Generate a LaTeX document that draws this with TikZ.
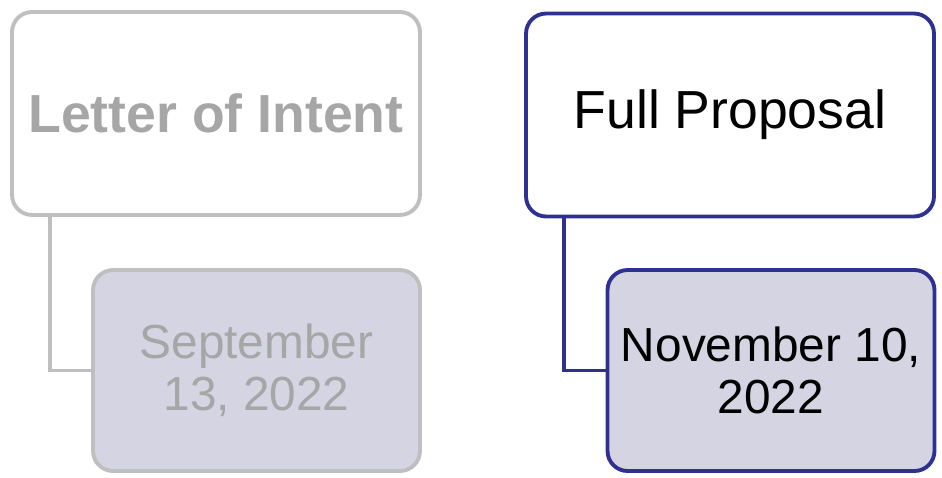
\documentclass[tikz,border=0pt]{standalone}
\usepackage{fontspec}
\setmainfont{Liberation Sans}
\definecolor{lightline}{HTML}{BFBFBF}
\definecolor{lighttext}{HTML}{A6A6A6}
\definecolor{datefill}{HTML}{D4D4E2}
\definecolor{darkline}{HTML}{2E3191}
\tikzset{
    stagebox/.style={draw, rounded corners=0.4cm, line width=2.2pt,
        minimum width=8.16cm, minimum height=4.06cm, fill=white},
    datebox/.style={draw, rounded corners=0.4cm, line width=2.2pt,
        minimum width=6.54cm, minimum height=4.02cm, fill=datefill, align=center},
}
\begin{document}
\begin{tikzpicture}[x=0.02cm, y=-0.02cm]
    \useasboundingbox (0,0) rectangle (942,477);
    % Letter of intent (faded)
    \node[stagebox, draw=lightline, text=lighttext, font=\fontsize{30.5}{36}\selectfont\bfseries]
        (loi) at (216,113.5) {Letter of Intent};
    \node[datebox, draw=lightline, text=lighttext, font=\fontsize{27.2}{29.5}\selectfont]
        (loidate) at (256.5,370.5) {September\\13, 2022};
    \draw[lightline, line width=2.2pt] ([xshift=0.8cm]loi.south west) |- (loidate.west);

    % Full proposal (current)
    \node[stagebox, draw=darkline, font=\fontsize{30.5}{36}\selectfont]
        (fp) at (730,115) {Full Proposal};
    \node[datebox, draw=darkline, font=\fontsize{27.2}{29.5}\selectfont]
        (fpdate) at (771,370.5) {November 10,\\2022};
    \draw[darkline, line width=2.2pt] ([xshift=0.8cm]fp.south west) |- (fpdate.west);
\end{tikzpicture}
\end{document}
